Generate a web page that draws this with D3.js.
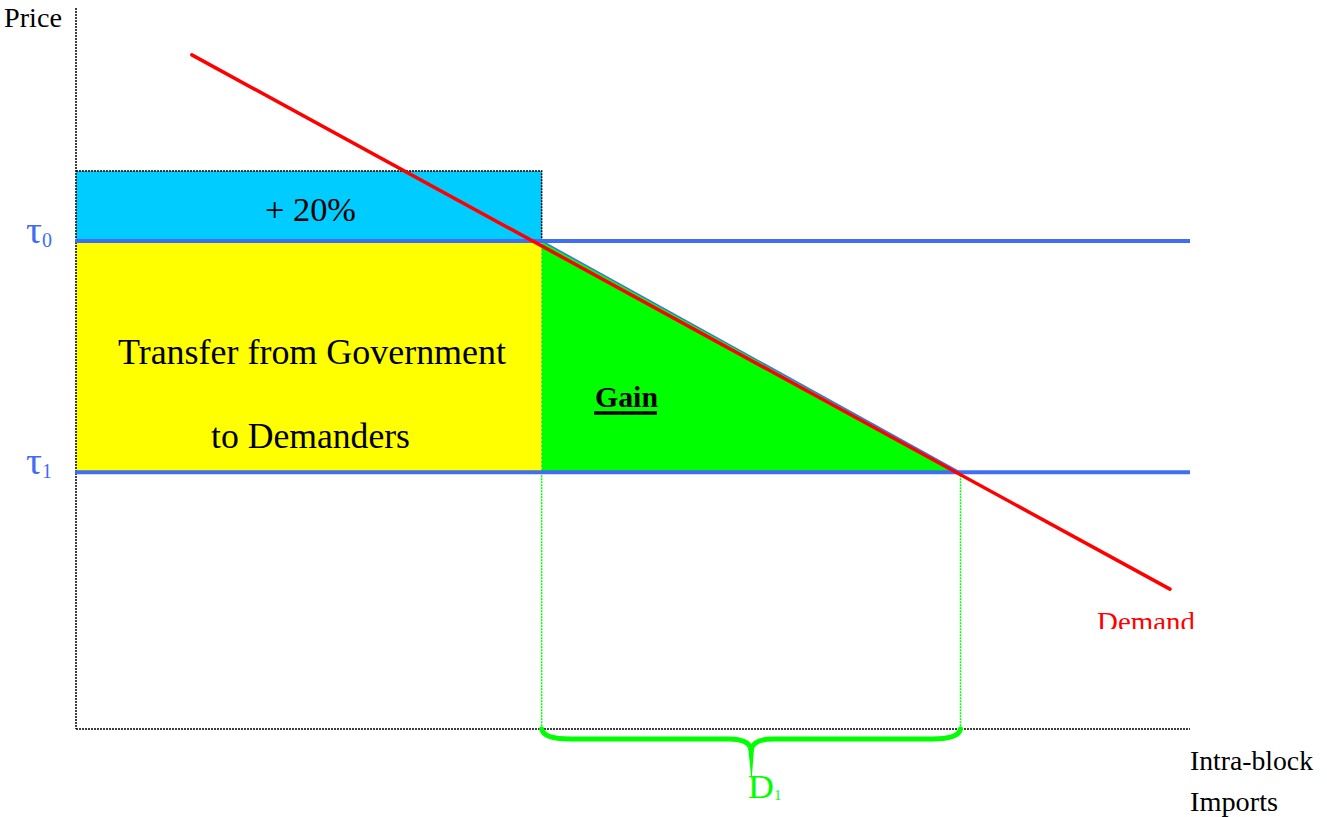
<!DOCTYPE html>
<html>
<head>
<meta charset="utf-8">
<script src="https://cdn.jsdelivr.net/npm/d3@7"></script>
<style>
  html, body { margin: 0; padding: 0; background: #ffffff; }
  svg { display: block; }
</style>
</head>
<body>
<svg id="chart" width="1327" height="817"></svg>
<script>
// ---- data (quantity 0..100, price 0..100) ----
const demandQ = [10.4, 98.2];
const demandP = [93.5, 19.4];
const priceLevels = [67.7, 35.6];          // tau0, tau1
const priceSubs = ["0", "1"];
const quantityLevels = [41.8, 79.4];       // Q at tau0, Q at tau1 (D1 span)
const subsidyTop = [77.4];                 // top of "+ 20%" block
const axisMax = [100, 100];                // x max, y max

const SERIF = "Liberation Serif";
const svg = d3.select("#chart");
const x = d3.scaleLinear().domain([0, axisMax[0]]).range([76, 1190]);
const y = d3.scaleLinear().domain([0, axisMax[1]]).range([729, 8]);

const BLUE = "#3f6ef2";
const RED = "#ff0000";
const GREEN = "#00ff00";

const q0 = quantityLevels[0], q1 = quantityLevels[1];
const p0 = priceLevels[0], p1 = priceLevels[1];

function txt(xp, yp, size, s) {
  return svg.append("text").attr("x", xp).attr("y", yp)
    .attr("font-family", SERIF).attr("font-size", size).text(s);
}

// "+20%" cyan block
svg.append("rect")
  .attr("x", x(0)).attr("y", y(subsidyTop[0]))
  .attr("width", x(q0) - x(0)).attr("height", y(p0) - y(subsidyTop[0]))
  .attr("fill", "#00ccff");
svg.append("path")
  .attr("d", `M${x(0)},${y(subsidyTop[0])} H${x(q0)} V${y(p0)}`)
  .attr("fill", "none").attr("stroke", "#000").attr("stroke-width", 1.5)
  .attr("stroke-dasharray", "2,1");

// yellow transfer block
svg.append("rect")
  .attr("x", x(0)).attr("y", y(p0))
  .attr("width", x(q0) - x(0)).attr("height", y(p1) - y(p0))
  .attr("fill", "#ffff00");

// green gain triangle
svg.append("path")
  .attr("d", `M${x(q0)},${y(p0)} L${x(q0)},${y(p1)} L${x(q1)},${y(p1)} Z`)
  .attr("fill", GREEN);
svg.append("line")
  .attr("x1", x(q0)).attr("y1", y(p0)).attr("x2", x(q1)).attr("y2", y(p1))
  .attr("stroke", BLUE).attr("stroke-width", 1.5);
svg.append("line")
  .attr("x1", x(q0)).attr("x2", x(q0)).attr("y1", y(p0)).attr("y2", y(p1))
  .attr("stroke", BLUE).attr("stroke-width", 1).attr("stroke-dasharray", "2,2").attr("opacity", 0.5);

// green dotted verticals down to the axis
quantityLevels.forEach(q => {
  svg.append("line")
    .attr("x1", x(q)).attr("x2", x(q))
    .attr("y1", y(p1)).attr("y2", y(0))
    .attr("stroke", GREEN).attr("stroke-width", 1.5)
    .attr("stroke-dasharray", "2,1");
});

// axes (dotted)
svg.append("line")
  .attr("x1", x(0)).attr("x2", x(0)).attr("y1", y(axisMax[1])).attr("y2", y(0))
  .attr("stroke", "#000").attr("stroke-width", 1.5).attr("stroke-dasharray", "2,1");
svg.append("line")
  .attr("x1", x(0)).attr("x2", x(axisMax[0])).attr("y1", y(0)).attr("y2", y(0))
  .attr("stroke", "#000").attr("stroke-width", 1.5).attr("stroke-dasharray", "2,1");

// price level lines
priceLevels.forEach(p => {
  svg.append("line")
    .attr("x1", x(0) - 1).attr("x2", x(axisMax[0]))
    .attr("y1", y(p)).attr("y2", y(p))
    .attr("stroke", BLUE).attr("stroke-width", 4);
});

// demand line
const line = d3.line().x(d => x(d[0])).y(d => y(d[1]));
svg.append("path")
  .attr("d", line(demandQ.map((q, i) => [q, demandP[i]])))
  .attr("fill", "none").attr("stroke", RED).attr("stroke-width", 3.5)
  .attr("stroke-linecap", "round");

// tau labels
priceLevels.forEach((p, i) => {
  txt(26, y(p) + 2, 38, "τ").attr("fill", BLUE)
    .attr("textLength", 16).attr("lengthAdjust", "spacingAndGlyphs");
  txt(42, y(p) + 6, 21, priceSubs[i]).attr("fill", BLUE)
    .attr("textLength", 10).attr("lengthAdjust", "spacingAndGlyphs");
});

// brace under x-axis for D1
const bx0 = x(q0), bx1 = x(q1), bm = (bx0 + bx1) / 2;
const by = y(0), bb = by + 10;
svg.append("path")
  .attr("d", `M${bx0},${by} Q${bx0 + 2},${bb} ${bx0 + 28},${bb} L${bm - 22},${bb} Q${bm - 3},${bb} ${bm},${bb + 10} Q${bm + 3},${bb} ${bm + 22},${bb} L${bx1 - 28},${bb} Q${bx1 - 2},${bb} ${bx1},${by}`)
  .attr("fill", "none").attr("stroke", GREEN).attr("stroke-width", 5)
  .attr("stroke-linejoin", "round").attr("stroke-linecap", "round");
svg.append("path")
  .attr("d", `M${bm - 3},${bb + 8} L${bm + 3},${bb + 8} L${bm + 0.5},${bb + 42} Z`)
  .attr("fill", GREEN);

// texts
txt(4, 27, 27, "Price")
  .attr("textLength", 58).attr("lengthAdjust", "spacingAndGlyphs");

txt(265, 221, 33, "+ 20%")
  .attr("textLength", 91).attr("lengthAdjust", "spacingAndGlyphs");

txt(118, 364, 35, "Transfer from Government")
  .attr("textLength", 388).attr("lengthAdjust", "spacingAndGlyphs");
txt(211, 448, 35, "to Demanders")
  .attr("textLength", 199).attr("lengthAdjust", "spacingAndGlyphs");

txt(595, 407, 30, "Gain").attr("font-weight", "bold")
  .attr("textLength", 63).attr("lengthAdjust", "spacingAndGlyphs");
svg.append("line").attr("x1", 594).attr("x2", 657).attr("y1", 413).attr("y2", 413)
  .attr("stroke", "#000").attr("stroke-width", 3.5);

svg.append("clipPath").attr("id", "demclip")
  .append("rect").attr("x", 1000).attr("y", 580).attr("width", 300).attr("height", 49);
txt(1097, 631, 28, "Demand")
  .attr("fill", RED).attr("clip-path", "url(#demclip)")
  .attr("textLength", 98).attr("lengthAdjust", "spacingAndGlyphs");

txt(1190, 770, 27, "Intra-block")
  .attr("textLength", 123).attr("lengthAdjust", "spacingAndGlyphs");
txt(1190, 811, 27, "Imports")
  .attr("textLength", 88).attr("lengthAdjust", "spacingAndGlyphs");

txt(748, 798, 34, "D").attr("fill", GREEN)
  .attr("textLength", 26).attr("lengthAdjust", "spacingAndGlyphs");
txt(774, 800, 15, "1").attr("fill", GREEN);
</script>
</body>
</html>
